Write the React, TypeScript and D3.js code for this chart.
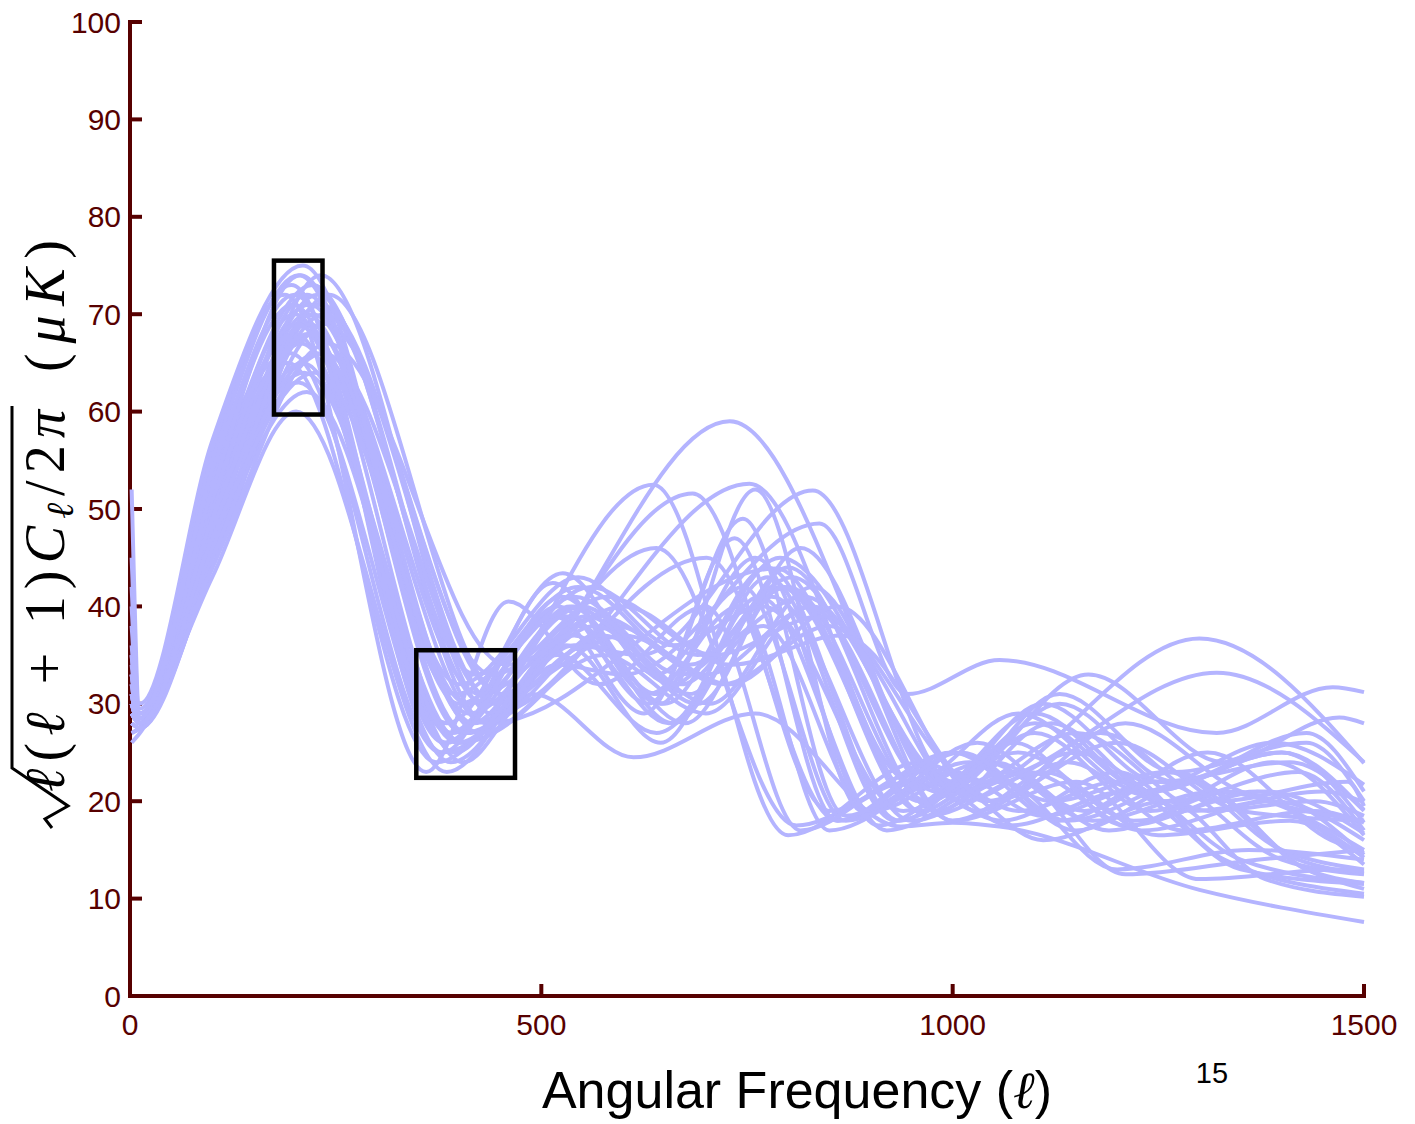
import * as d3 from 'd3';

// tick values
const xTicks = [0, 500, 1000, 1500];
const yTicks = [0, 10, 20, 30, 40, 50, 60, 70, 80, 90, 100];

// power spectra, [l, value] read at the turning points of each curve
const spectra: [number, number][][] = [
  [[2, 30], [12, 28], [100, 48], [228, 72], [430, 30], [729, 59], [1005, 21], [1150, 27], [1310, 19], [1440, 20], [1500, 18.5]],
  [[2, 34], [12, 28.5], [100, 53], [192, 65], [372, 24], [636, 52.5], [800, 16.5], [960, 24], [1080, 19], [1200, 22], [1350, 14], [1500, 11.6]],
  [[2, 28], [12, 27.5], [100, 47], [215, 70], [405, 27], [684, 51.6], [850, 19], [1000, 25], [1120, 20], [1260, 23], [1400, 15], [1500, 13]],
  [[2, 31], [12, 28], [100, 45], [232, 74], [440, 29], [753, 52.6], [950, 22], [1080, 29], [1230, 21], [1390, 26], [1500, 21.7]],
  [[2, 29], [12, 28], [100, 44], [242, 72], [452, 31], [540, 36], [620, 35], [830, 51.9], [1000, 22], [1165, 33], [1330, 24], [1470, 28.6], [1500, 28]],
  [[2, 33], [12, 29], [100, 46], [236, 70], [445, 30], [520, 34], [600, 33], [838, 48.5], [945, 31], [1057, 34.5], [1321, 27], [1462, 31.7], [1500, 31.2]],
  [[2, 30], [12, 28], [100, 50], [218, 71], [415, 28], [540, 40], [660, 32], [790, 45], [1010, 21], [1300, 36.7], [1500, 23.9]],
  [[2, 35], [12, 28.5], [100, 54], [195, 66], [378, 25], [640, 46], [810, 17.5], [950, 22], [1060, 18], [1200, 23], [1330, 14], [1500, 10.5]],
  [[2, 29], [12, 28], [100, 47], [212, 69], [400, 26], [701, 45], [860, 18], [1000, 23], [1110, 18.5], [1250, 22], [1400, 14], [1500, 12.5]],
  [[2, 32], [12, 28], [100, 44], [230, 71], [435, 28], [786, 43.9], [960, 19], [1100, 27], [1240, 19], [1390, 24], [1500, 16.5]],
  [[2, 30], [12, 28], [100, 52], [200, 68], [385, 28], [526, 43.4], [640, 33], [745, 42], [870, 18], [1020, 24], [1150, 17], [1290, 22], [1430, 13], [1500, 11]],
  [[2, 38], [12, 29], [100, 55], [196, 73], [380, 25], [514, 42.4], [630, 31], [740, 40], [850, 17], [990, 22], [1110, 16], [1260, 20], [1380, 12], [1500, 10.2]],
  [[2, 27], [12, 27.5], [100, 56], [188, 72], [360, 23], [460, 40.5], [570, 32], [700, 40], [815, 17], [960, 23], [1070, 17.5], [1210, 21], [1350, 13], [1500, 11.5]],
  [[2, 29], [12, 28], [100, 46], [215, 62], [405, 24], [490, 31], [612, 24.5], [760, 29], [937, 17.4], [1000, 17.8], [1057, 17.4], [1300, 10.9], [1500, 7.6]],
  [[2, 26], [12, 27], [100, 43], [202, 60], [385, 23], [520, 35], [640, 27], [770, 38], [900, 19], [1040, 24], [1170, 18], [1320, 21], [1500, 15]],
  [[2, 52], [12, 30], [100, 57], [210, 75], [400, 30], [540, 41], [670, 33], [800, 42], [970, 20], [1100, 28], [1240, 21], [1400, 25], [1500, 17.8]],
  [[2, 45], [12, 29.5], [100, 55], [205, 74], [395, 31], [545, 42], [680, 34], [805, 43], [980, 21], [1110, 30], [1250, 22], [1410, 24], [1500, 19]],
  [[2, 40], [12, 29], [100, 52], [222, 73], [420, 33], [560, 42], [690, 35], [820, 41], [1000, 22], [1130, 31], [1270, 23], [1430, 26], [1500, 20]],
  [[2, 33], [12, 28.5], [100, 50], [225, 68], [425, 31], [570, 39], [700, 33], [830, 40], [1010, 20], [1150, 25], [1290, 19], [1450, 21], [1500, 19.9]],
  [[2, 28], [12, 27.5], [100, 46], [235, 66], [445, 30], [590, 38], [720, 32], [850, 38], [1030, 19], [1180, 27], [1320, 20], [1480, 22], [1500, 19.5]],
  [[2, 31], [12, 28], [100, 49], [212, 64], [405, 26], [545, 38], [660, 28], [780, 41], [950, 18], [1090, 23], [1230, 17], [1390, 20], [1500, 16]],
  [[2, 27], [12, 27.5], [100, 48], [208, 67], [395, 25], [535, 40], [650, 30], [775, 44], [935, 18], [1075, 26], [1210, 17.5], [1370, 21], [1500, 14.5]],
  [[2, 30], [12, 28], [100, 51], [200, 70], [388, 27], [525, 41], [640, 31], [760, 45], [910, 17.5], [1050, 24], [1190, 17], [1340, 21], [1500, 13.5]],
  [[2, 36], [12, 28.5], [100, 50], [218, 69], [412, 29], [555, 39], [680, 31], [800, 44], [980, 19], [1120, 28], [1260, 20], [1420, 23], [1500, 17]],
  [[2, 29], [12, 28], [100, 45], [238, 69], [450, 31], [600, 37], [730, 32], [860, 40], [1040, 20], [1200, 26], [1350, 19], [1500, 18]],
  [[2, 32], [12, 28], [100, 47], [228, 66], [432, 28], [575, 37], [705, 30], [830, 42], [1000, 18], [1140, 24], [1280, 17], [1440, 19], [1500, 17.8]],
  [[2, 28], [12, 27.5], [100, 50], [205, 63], [390, 24], [530, 36], [645, 26], [765, 41], [920, 17], [1060, 22], [1200, 13], [1360, 15], [1500, 14]],
  [[2, 30], [12, 28], [100, 53], [198, 71], [382, 26], [515, 39], [625, 29], [735, 47], [860, 18], [1000, 25], [1130, 18], [1270, 23], [1420, 14], [1500, 12.6]],
  [[2, 33], [12, 28.5], [100, 49], [215, 72], [410, 30], [550, 40], [670, 32], [790, 42], [960, 20], [1100, 29], [1240, 21], [1400, 25], [1500, 19.1]],
  [[2, 27], [12, 27.5], [100, 47], [222, 70], [418, 28], [565, 38], [690, 30], [815, 46], [990, 21], [1130, 30], [1270, 22], [1430, 27], [1500, 21]],
  [[2, 31], [12, 28], [100, 48], [210, 65], [398, 26], [540, 37], [655, 28], [775, 43], [930, 18], [1070, 23], [1210, 12.5], [1370, 14], [1500, 15]],
  [[2, 29], [12, 28], [100, 51], [203, 69], [392, 27], [530, 39], [645, 30], [760, 52], [890, 19], [1030, 26], [1160, 19], [1310, 25], [1460, 16], [1500, 14.7]],
  [[2, 35], [12, 28.5], [100, 52], [207, 74], [400, 32], [545, 43], [660, 36], [770, 40], [940, 19], [1080, 25], [1220, 18], [1380, 21], [1500, 16.7]],
  [[2, 30], [12, 28], [100, 46], [232, 71], [440, 33], [580, 41], [710, 35], [840, 39], [1030, 22], [1321, 33.2], [1500, 24]],
  [[2, 28], [12, 27.5], [100, 44], [240, 67], [458, 34], [600, 40], [730, 34], [865, 37], [1050, 20], [1210, 28], [1350, 21], [1500, 18]],
  [[2, 42], [12, 29], [100, 54], [200, 72], [385, 26], [520, 40], [630, 30], [745, 49], [870, 18.5], [1010, 25], [1140, 18], [1290, 22], [1430, 13], [1500, 11.6]],
  [[2, 31], [12, 28], [100, 49], [217, 68], [410, 27], [560, 36], [675, 28], [795, 42], [970, 18.5], [1110, 23], [1250, 16.5], [1410, 18], [1500, 14.2]],
  [[2, 29], [12, 28], [100, 47], [225, 64], [425, 27], [575, 35], [700, 29], [825, 40], [1000, 18], [1150, 22], [1300, 12], [1470, 13], [1500, 12.8]],
];

// highlighted regions: l range and value range
const boxes = [
  { l0: 175, l1: 234, v0: 59.7, v1: 75.5 },
  { l0: 348, l1: 468, v0: 22.4, v1: 35.5 },
];

const axisColor = '#570000';
const sans = '"Liberation Sans", Arial, sans-serif';
const serif = '"Liberation Serif", "Times New Roman", serif';

export default function App() {
  const width = 1415;
  const height = 1124;

  const x = d3.scaleLinear().domain([0, 1500]).range([130, 1364]);
  const y = d3.scaleLinear().domain([0, 100]).range([996, 22]);

  const line = d3.line<[number, number]>()
    .x(d => x(d[0]))
    .y(d => y(d[1]))
    .curve(d3.curveMonotoneX);

  return (
    <svg width={width} height={height} style={{ position: 'absolute', left: 0, top: 0, background: '#fff' }}>
      {/* axes */}
      <line x1={x(0)} x2={x(0)} y1={y(100) - 2} y2={y(0) + 2} stroke={axisColor} strokeWidth={4} />
      <line x1={x(0) - 2} x2={x(1500) + 2} y1={y(0)} y2={y(0)} stroke={axisColor} strokeWidth={4} />
      {yTicks.map(t => (
        <g key={'y' + t}>
          <line x1={x(0)} x2={x(0) + 12} y1={y(t)} y2={y(t)} stroke={axisColor} strokeWidth={4} />
          <text x={x(0) - 9} y={y(t)} dy="0.35em" textAnchor="end" fontFamily={sans} fontSize={30} fill={axisColor}>{t}</text>
        </g>
      ))}
      {xTicks.map(t => (
        <g key={'x' + t}>
          <line x1={x(t)} x2={x(t)} y1={y(0)} y2={y(0) - 12} stroke={axisColor} strokeWidth={4} />
          <text x={x(t)} y={y(0) + 39} textAnchor="middle" fontFamily={sans} fontSize={30} fill={axisColor}>{t}</text>
        </g>
      ))}

      {/* curves */}
      <g fill="none" stroke="#b4b4ff" strokeWidth={4} strokeLinejoin="round">
        {spectra.map((s, i) => <path key={i} d={line(s) || ''} />)}
      </g>

      {/* boxes */}
      {boxes.map((b, i) => (
        <rect key={i} x={x(b.l0)} y={y(b.v1)} width={x(b.l1) - x(b.l0)} height={y(b.v0) - y(b.v1)}
          fill="none" stroke="#000" strokeWidth={4.5} />
      ))}

      {/* y label */}
      <g transform="rotate(-90)" fill="#000">
        <text x={-792} y={64} fontFamily={serif} fontSize={56} textLength={382} lengthAdjust="spacing">
          <tspan fontStyle="italic">ℓ</tspan>
          <tspan>(</tspan>
          <tspan fontStyle="italic">ℓ</tspan>
          <tspan> + 1)</tspan>
          <tspan fontStyle="italic">C</tspan>
          <tspan fontStyle="italic" fontSize={38} dy={9}>ℓ</tspan>
          <tspan dy={-9}>/2</tspan>
          <tspan fontStyle="italic">π</tspan>
        </text>
        <text x={-372} y={64} fontFamily={serif} fontSize={56} textLength={132} lengthAdjust="spacing">
          <tspan>(</tspan>
          <tspan fontStyle="italic">μK</tspan>
          <tspan>)</tspan>
        </text>
      </g>
      <path d="M52,828 L45,819 L68,806 L12,768 L12,406" fill="none" stroke="#000" strokeWidth={3} strokeLinejoin="miter" />

      {/* x label */}
      <text x={797} y={1108} textAnchor="middle" fontFamily={sans} fontSize={52} fill="#000">
        Angular Frequency (<tspan fontFamily={serif} fontStyle="italic">ℓ</tspan>)
      </text>
      <text x={1212} y={1083} textAnchor="middle" fontFamily={sans} fontSize={29} fill="#000">15</text>
    </svg>
  );
}
